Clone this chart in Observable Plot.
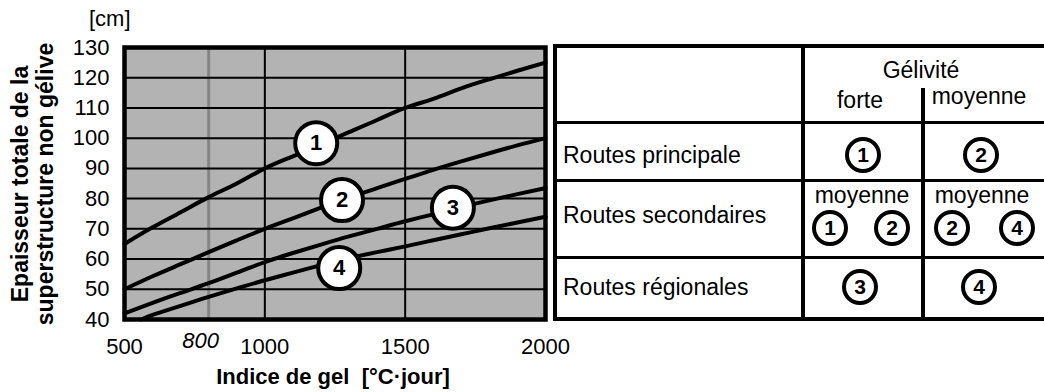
<!DOCTYPE html>
<html><head><meta charset="utf-8">
<script src="https://cdn.jsdelivr.net/npm/d3@7"></script>
<script src="https://cdn.jsdelivr.net/npm/@observablehq/plot@0.6"></script>
<style>
body{margin:0;background:#fff;font-family:"Liberation Sans",Arial,sans-serif;color:#000;}
#wrap{position:relative;width:1044px;height:392px;overflow:hidden;}
#wrap svg{position:absolute;left:0;top:0;}
.t{position:absolute;white-space:pre;line-height:22px;font-size:22px;}
.c{transform:translateX(-50%);}
.ln{position:absolute;background:#000;}
.circ{position:absolute;width:36px;height:36px;box-sizing:border-box;border:4px solid #000;border-radius:50%;background:#fff;display:flex;align-items:center;justify-content:center;font-weight:bold;font-size:21px;transform:translate(-50%,-50%);}
</style></head><body><div id="wrap"></div>
<script>
// ---- chart data ----
const frostIndex = [500,600,700,800,900,1000,1100,1200,1300,1400,1500,1600,1700,1800,1900,2000];
const curve1 = [65,70.5,75.5,80.5,85,90,94,98,102,106,110,113,116.5,119.5,122.3,125];
const curve2 = [50,54.3,58.3,62.3,66.2,70,73.5,77,80.3,83.5,86.5,89.5,92.3,95,97.6,100];
const curve3 = [42,45.5,48.8,52,55.5,59,62,64.8,67.5,70,72.5,74.8,77.2,79.4,81.5,83.5];
const frostIndex4 = [560,600,700,800,900,1000,1100,1200,1300,1400,1500,1600,1700,1800,1900,2000];
const curve4 = [40,41.5,44.5,47.5,50.3,53,55.5,58,60.3,62.3,64.2,66.2,68.2,70.2,72.1,74];
const labelNames = ["1","2","3","4"];
const labelX = [1183,1275,1670,1265];
const labelY = [98.3,79.5,77,57];
const xTicks = [500,1000,1500,2000];
const xSpecial = [800];
const xGrid = [1000,1500];
const yTicks = [40,50,60,70,80,90,100,110,120,130];
const yGrid = [50,60,70,80,90,100,110,120];
const yUnit = "[cm]";
const yTitle = ["Epaisseur totale de la","superstructure non gélive"];
const xTitle = "Indice de gel  [°C·jour]";

// ---- table data ----
const tableTitle = "Gélivité";
const geliviteLevels = ["forte","moyenne"];
const roadClasses = ["Routes principale","Routes secondaires","Routes régionales"];
const cellNotes = [["",""],["moyenne","moyenne"],["",""]];
const cellCurves = [[["1"],["2"]],[["1","2"],["2","4"]],[["3"],["4"]]];

const lineData = [
  ...frostIndex.map((x,i)=>({curve:"1",x,y:curve1[i]})),
  ...frostIndex.map((x,i)=>({curve:"2",x,y:curve2[i]})),
  ...frostIndex.map((x,i)=>({curve:"3",x,y:curve3[i]})),
  ...frostIndex4.map((x,i)=>({curve:"4",x,y:curve4[i]}))
];
const labelData = labelNames.map((n,i)=>({label:n,x:labelX[i],y:labelY[i]}));
const fmt = d => String(d);

const chart = Plot.plot({
  width:1044, height:392,
  marginLeft:124, marginRight:499, marginTop:47, marginBottom:73,
  x:{domain:[500,2000]}, y:{domain:[40,130]},
  style:{fontFamily:"'Liberation Sans', Arial, sans-serif", fontSize:"22px", color:"#000", background:"transparent"},
  marks:[
    Plot.frame({fill:"#b3b3b3", stroke:"none"}),
    Plot.ruleX(xSpecial,{stroke:"#858585",strokeWidth:3}),
    Plot.ruleX(xGrid,{stroke:"#000",strokeWidth:2}),
    Plot.ruleY(yGrid,{stroke:"#000",strokeWidth:2}),
    Plot.line(lineData,{x:"x",y:"y",z:"curve",stroke:"#000",strokeWidth:4,curve:"natural"}),
    Plot.frame({stroke:"#000",strokeWidth:4.5}),
    Plot.dot(labelData,{x:"x",y:"y",r:21,fill:"#fff",stroke:"#000",strokeWidth:4}),
    Plot.text(labelData,{x:"x",y:"y",text:"label",fontWeight:"bold",fontSize:22}),
    Plot.axisX(xTicks,{tickSize:0,tickPadding:19,fontSize:22,tickFormat:fmt,label:null}),
    Plot.axisX(xSpecial,{tickSize:0,tickPadding:13,fontSize:22,fontStyle:"italic",dx:-8,tickFormat:fmt,label:null}),
    Plot.axisY(yTicks,{tickSize:0,tickPadding:15,fontSize:22,tickFormat:fmt,label:null})
  ]
});
const wrap = document.getElementById("wrap");
wrap.appendChild(chart);

function addText(str, x, baseline, opts={}) {
  const d = document.createElement("div");
  d.className = "t" + (opts.center ? " c" : "");
  d.textContent = str;
  const fs = opts.size || 23;
  d.style.fontSize = fs + "px";
  d.style.lineHeight = fs + "px";
  d.style.left = x + "px";
  d.style.top = (baseline - fs*0.845) + "px";
  if (opts.bold) d.style.fontWeight = "bold";
  wrap.appendChild(d);
  return d;
}
function addLine(left, top, w, h) {
  const d = document.createElement("div");
  d.className = "ln";
  Object.assign(d.style,{left:left+"px",top:top+"px",width:w+"px",height:h+"px"});
  wrap.appendChild(d);
}
function addCircle(str, cx, cy) {
  const d = document.createElement("div");
  d.className = "circ";
  d.textContent = str;
  d.style.left = cx + "px"; d.style.top = cy + "px";
  wrap.appendChild(d);
}

// axis titles
addText(yUnit, 89, 27, {size:22});
addText(xTitle, 333, 385, {center:true, bold:true, size:22});
const yt = document.createElement("div");
Object.assign(yt.style,{position:"absolute",left:(33-170)+"px",top:(184-25)+"px",width:"340px",height:"50px",
  textAlign:"center",fontWeight:"bold",fontSize:"23px",lineHeight:"25px",transform:"rotate(-90deg)",whiteSpace:"pre"});
yt.textContent = yTitle.join("\n");
wrap.appendChild(yt);

// table
const tbl = document.createElement("div");
Object.assign(tbl.style,{position:"absolute",left:"553px",top:"44px",width:"500px",height:"277px",
  border:"4.5px solid #000",boxSizing:"border-box",background:"#fff"});
wrap.appendChild(tbl);
addLine(801, 46, 4, 274);
addLine(921, 88, 4, 232);
addLine(555, 120.5, 495, 3.5);
addLine(555, 178.5, 495, 3);
addLine(555, 255.5, 495, 3);

addText(tableTitle, 921, 78, {center:true});
const levelX = [860, 979], levelBase = [108, 104];
geliviteLevels.forEach((l,i)=>addText(l, levelX[i], levelBase[i], {center:true}));
const rowBase = [163, 223, 295];
roadClasses.forEach((r,i)=>addText(r, 563, rowBase[i]));
const noteX = [862, 982];
cellNotes.forEach((row,i)=>row.forEach((n,j)=>{ if(n) addText(n, noteX[j], 203, {center:true}); }));
const circleRowY = [155, 228, 287];
const circleX = [[[863],[981]],[[830,892],[952,1017]],[[860],[979]]];
cellCurves.forEach((row,i)=>row.forEach((cell,j)=>cell.forEach((c,k)=>addCircle(c, circleX[i][j][k], circleRowY[i]))));
</script>
</body></html>
